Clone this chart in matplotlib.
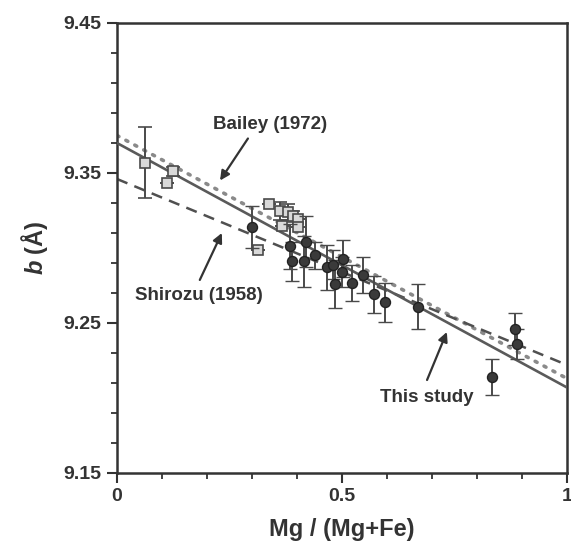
import matplotlib
matplotlib.use("Agg")
import matplotlib.pyplot as plt
import numpy as np

plt.rcParams["font.family"] = ["Liberation Sans", "DejaVu Sans"]
plt.rcParams["mathtext.fontset"] = "custom"
plt.rcParams["mathtext.bfit"] = "Liberation Sans:italic:bold"
plt.rcParams["mathtext.it"] = "Liberation Sans:italic:bold"

# literature data (squares)
sq_x = [0.062, 0.111, 0.125, 0.314, 0.338, 0.362, 0.367, 0.380, 0.391, 0.402, 0.402]
sq_y = [9.357, 9.343, 9.351, 9.299, 9.329, 9.325, 9.315, 9.324, 9.321, 9.319, 9.314]
sq_err = [0.024, 0.0, 0.003, 0.0, 0.0, 0.006, 0.0, 0.005, 0.004, 0.0, 0.0]

# this study (circles)
ci_x = [0.300, 0.384, 0.388, 0.416, 0.420, 0.440, 0.467, 0.480, 0.484, 0.500,
        0.503, 0.522, 0.547, 0.571, 0.596, 0.669, 0.833, 0.884, 0.888]
ci_y = [9.314, 9.301, 9.291, 9.291, 9.304, 9.295, 9.287, 9.289, 9.276, 9.284,
        9.293, 9.277, 9.282, 9.269, 9.264, 9.261, 9.214, 9.246, 9.236]
ci_err = [0.014, 0.015, 0.013, 0.017, 0.017, 0.009, 0.015, 0.010, 0.016, 0.010,
          0.012, 0.012, 0.012, 0.012, 0.013, 0.015, 0.012, 0.011, 0.010]

# regression lines: (intercept, slope)
this_study = (9.370, -0.163)
bailey = (9.375, -0.162)
shirozu = (9.346, -0.124)

INK = "#333333"

fig = plt.figure(figsize=(5.71, 5.50), dpi=100)
ax = fig.add_axes([117 / 571, 77 / 550, 450 / 571, 450 / 550])

xl = np.array([0.0, 1.0])
ax.plot(xl, bailey[0] + bailey[1] * xl, color="#8a8a8a", lw=2.6,
        ls=(0, (0.6, 2.2)), dash_capstyle="round", zorder=2)
ax.plot(xl, shirozu[0] + shirozu[1] * xl, color="#505050", lw=1.8,
        ls=(0, (4.5, 3)), zorder=2)
ax.plot(xl, this_study[0] + this_study[1] * xl, color="#5a5a5a", lw=1.9,
        zorder=3)

ax.errorbar(sq_x, sq_y, yerr=sq_err, fmt="s", ms=7.5, mfc="#d9d9d9",
            mec="#4a4a4a", mew=1.2, ecolor="#4a4a4a", elinewidth=1.4,
            capsize=5, capthick=1.4, zorder=4)
ax.errorbar(ci_x, ci_y, yerr=ci_err, fmt="o", ms=7.2, mfc="#3a3a3a",
            mec="#222222", mew=1.0, ecolor="#4a4a4a", elinewidth=1.4,
            capsize=5, capthick=1.4, zorder=5)

arrow = dict(arrowstyle="-|>", color=INK, lw=1.6, mutation_scale=14,
             shrinkA=0, shrinkB=0)
tkw = dict(fontsize=13.5, fontweight="bold", color=INK, ha="center", va="center")
ax.annotate("", xy=(0.229, 9.345), xytext=(0.291, 9.373), arrowprops=arrow)
ax.text(0.34, 9.382, "Bailey (1972)", **tkw)
ax.annotate("", xy=(0.233, 9.310), xytext=(0.184, 9.2787), arrowprops=arrow)
ax.text(0.182, 9.268, "Shirozu (1958)", **tkw)
ax.annotate("", xy=(0.733, 9.244), xytext=(0.689, 9.212), arrowprops=arrow)
ax.text(0.689, 9.200, "This study", **tkw)

ax.set_xlim(0, 1)
ax.set_ylim(9.15, 9.45)
ax.set_xticks([0, 0.5, 1])
ax.set_xticklabels(["0", "0.5", "1"])
ax.set_xticks(np.arange(0.1, 1.0, 0.1), minor=True)
ax.set_yticks([9.15, 9.25, 9.35, 9.45])
ax.set_yticklabels(["9.15", "9.25", "9.35", "9.45"])
ax.set_yticks(np.arange(9.17, 9.44, 0.02), minor=True)

for side in ax.spines.values():
    side.set_color(INK)
    side.set_linewidth(1.8)
ax.tick_params(which="major", direction="out", length=7, width=1.5,
               color=INK, labelsize=14, labelcolor=INK, pad=4)
ax.tick_params(which="minor", direction="out", length=4, width=1.3, color=INK)
for lab in ax.get_xticklabels() + ax.get_yticklabels():
    lab.set_fontweight("bold")

ax.set_xlabel("Mg / (Mg+Fe)", fontsize=17, fontweight="bold", color=INK,
              labelpad=9)
ax.set_ylabel(r"$\mathbfit{b}$ (Å)", fontsize=17, fontweight="bold",
              color=INK, labelpad=10)

fig.savefig("out.png", dpi=100, facecolor="white")
